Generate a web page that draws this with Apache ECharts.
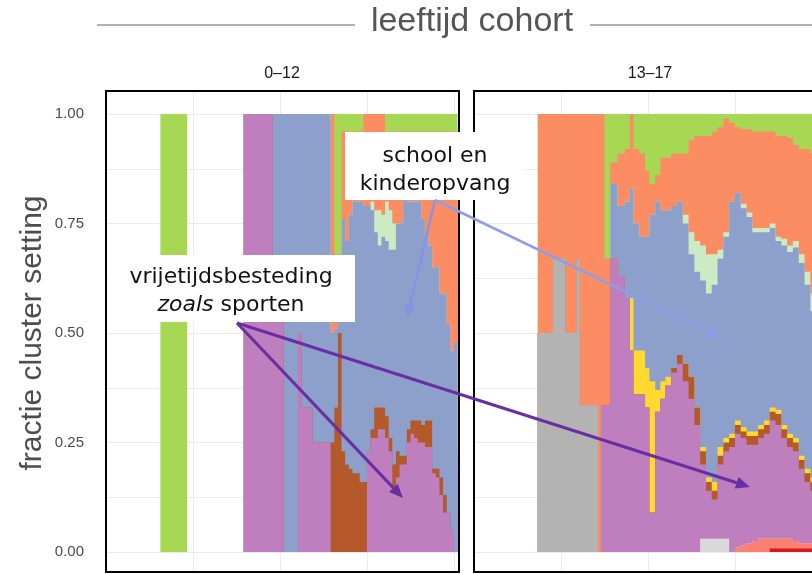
<!DOCTYPE html>
<html>
<head>
<meta charset="utf-8">
<script src="https://cdn.jsdelivr.net/npm/echarts@6/dist/echarts.min.js"></script>
<style>
  html, body { margin: 0; padding: 0; background: #fff; }
  #chart { width: 812px; height: 574px; }
</style>
</head>
<body>
<div id="chart"></div>
<script>
// uur van de dag, cohort 0-12
const hours012 = [0, 3.75, 5.6, 9.5, 11.5, 12.25, 13.25, 13.5, 14.25, 15.5, 15.75, 16.0, 16.25, 16.5, 16.75, 17.0, 17.5, 17.75, 18.0, 18.25, 18.5, 18.75, 19.0, 19.25, 19.5, 19.75, 20.0, 20.25, 20.5, 20.75, 21.0, 21.25, 21.5, 21.75, 22.0, 22.25, 22.5, 22.75, 23.0, 23.25, 23.5, 23.75, 24.0, 24.25, 24.35];
// fractie per cluster, cohort 0-12
const purple012 = [0, 0, 0, 1, .58, 0, .5, .33, .25, 0, 0, 0, 0, 0, 0, 0, 0, 0, .23, .26, .26, .28, .28, .26, .23, .14, .17, .2, .2, .25, .27, .26, .25, .25, .24, .24, .18, .17, .13, .09, .09, .05, 0, 0, 0];
const brown012 = [0, 0, 0, 0, 0, 0, 0, 0, 0, .25, .33, .5, .23, .2, .19, .18, .16, .16, 0, .02, .07, .05, .05, .05, .03, .06, .06, .02, .02, .03, .03, .04, .05, .04, .06, .06, .01, .02, .04, .04, 0, 0, 0, 0, 0];
const blue012 = [0, 0, 0, 0, .42, 1, .5, .67, .75, .25, .18, .18, .53, .51, .58, .62, .64, .63, .56, .5, .4, .37, .39, .4, .43, .49, .52, .53, .59, .52, .5, .5, .5, .47, .42, .4, .46, .46, .42, .46, .43, .41, .48, .25, .25];
const pale012 = [0, 0, 0, 0, 0, 0, 0, 0, 0, 0, 0, 0, 0, 0, 0, 0, 0, 0, 0, .02, .05, .08, .05, .09, .09, .06, 0, 0, 0, 0, 0, 0, 0, 0, 0, 0, 0, 0, 0, 0, 0, 0, 0, 0, 0];
const orange012 = [0, 0, 0, 0, 0, 0, 0, 0, 0, .5, .17, 0, .2, .25, .19, .16, .16, .21, .21, .2, .22, .22, .23, .16, .18, .21, .21, .21, .15, .16, .16, .16, .16, .2, .24, .26, .31, .31, .37, .37, .44, .5, .48, .71, .71];
const green012 = [0, 1, 0, 0, 0, 0, 0, 0, 0, 0, .32, .32, .04, .04, .04, .04, .04, 0, 0, 0, 0, 0, 0, .04, .04, .04, .04, .04, .04, .04, .04, .04, .04, .04, .04, .04, .04, .04, .04, .04, .04, .04, .04, .04, .04];

// uur van de dag, cohort 13-17
const hours1317 = [0, 4.4, 5.45, 6.3, 7.1, 7.3, 8.55, 8.75, 9.0, 9.4, 9.9, 10.4, 10.75, 11.0, 11.4, 11.8, 12.1, 12.5, 12.85, 13.2, 13.6, 14.0, 14.4, 14.8, 15.2, 15.6, 16.0, 16.4, 16.8, 17.2, 17.6, 18.0, 18.4, 18.8, 19.2, 19.6, 20.0, 20.4, 20.8, 21.2, 21.6, 22.0, 22.4, 22.8, 23.2, 24.35];
// fractie per cluster, cohort 13-17
const red1317 = [0, 0, 0, 0, 0, 0, 0, 0, 0, 0, 0, 0, 0, 0, 0, 0, 0, 0, 0, 0, 0, 0, 0, 0, 0, 0, 0, 0, 0, 0, 0, 0, 0, 0, 0, 0, 0, .008, .008, .008, .008, .008, .008, .008, .008, .008];
const salmon1317 = [0, 0, 0, 0, 0, 0, 0, 0, 0, 0, 0, 0, 0, 0, 0, 0, 0, 0, 0, 0, 0, 0, 0, 0, 0, 0, 0, 0, 0, 0, 0, .01, .015, .02, .025, .03, .03, .022, .022, .022, .022, .017, .012, .012, .012, .012];
const lightGrey1317 = [0, 0, 0, 0, 0, 0, 0, 0, 0, 0, 0, 0, 0, 0, 0, 0, 0, 0, 0, 0, 0, 0, 0, 0, 0, .03, .03, .03, .03, .03, 0, 0, 0, 0, 0, 0, 0, 0, 0, 0, 0, 0, 0, 0, 0, 0];
const grey1317 = [0, .5, .67, .5, .67, .335, 0, 0, 0, 0, 0, 0, 0, 0, 0, 0, 0, 0, 0, 0, 0, 0, 0, 0, 0, 0, 0, 0, 0, 0, 0, 0, 0, 0, 0, 0, 0, 0, 0, 0, 0, 0, 0, 0, 0, 0];
const purple1317 = [0, 0, 0, 0, 0, 0, 0, .335, .335, .67, .63, .58, .46, .36, .36, .33, .09, .32, .35, .38, .41, .43, .39, .35, .29, .17, .11, .09, .17, .2, .24, .26, .245, .225, .22, .23, .24, .27, .26, .23, .21, .205, .17, .14, .12, .12];
const brown1317 = [0, 0, 0, 0, 0, 0, 0, 0, 0, 0, 0, 0, 0, 0, 0, 0, 0, 0, 0, 0, .01, .02, .04, .05, .04, .03, .02, .02, .02, .02, .02, .02, .015, .02, .02, .02, .02, .02, .025, .02, .02, .02, .02, .02, .02, .02];
const yellow1317 = [0, 0, 0, 0, 0, 0, 0, 0, 0, 0, 0, 0, .12, .1, .1, .09, .3, .05, .04, .02, 0, 0, 0, 0, 0, .01, .01, .02, .02, .01, .01, .01, .01, .01, .01, .01, .01, .01, .01, .01, .01, .01, .01, .01, .01, .01];
const blue1317 = [0, 0, 0, 0, 0, 0, 0, 0, 0, .17, .16, .22, .25, .29, .26, .3, .38, .43, .39, .38, .37, .35, .32, .28, .31, .38, .42, .45, .43, .46, .53, .52, .5, .49, .455, .44, .43, .41, .385, .41, .415, .435, .44, .42, .38, .38];
const pale1317 = [0, 0, 0, 0, 0, 0, 0, 0, 0, 0, 0, 0, 0, 0, 0, 0, 0, 0, 0, 0, 0, 0, .02, .05, .07, .08, .09, .07, .02, .01, 0, 0, .01, .01, .01, .01, .01, .01, .01, .015, .015, .015, .02, .03, .04, .04];
const orange1317 = [0, .5, .33, .5, .33, .665, 1, .665, .335, .05, .12, .12, .17, .17, .19, .15, .07, .06, .12, .12, .12, .11, .14, .21, .24, .25, .27, .28, .28, .26, .18, .15, .17, .19, .22, .22, .22, .21, .23, .235, .245, .22, .24, .28, .32, .32];
const green1317 = [0, 0, 0, 0, 0, 0, 0, 0, .33, .11, .09, .08, 0, .08, .09, .13, .16, .14, .1, .1, .09, .09, .09, .06, .05, .05, .05, .04, .03, .01, .02, .03, .035, .035, .04, .04, .04, .05, .05, .05, .055, .07, .08, .08, .09, .09];

const yTicks = [0, 0.25, 0.5, 0.75, 1];

const C = {
  red: '#d7191c', salmon: '#fb8072', lightGrey: '#d9d9d9', grey: '#b3b3b3',
  purple: '#bf7fbf', brown: '#b3592a', yellow: '#ffd92f', blue: '#8da0cb',
  pale: '#ccebc5', orange: '#fc8d62', green: '#a6d854'
};

// layers bottom -> top, cumulative tops drawn with lower layers on top
function panelSeries(hours, layers, axisIdx) {
  let run = hours.map(() => 0);
  const tops = layers.map(l => (run = run.map((r, i) => r + l.values[i])));
  return layers.map((l, k) => ({
    type: 'line',
    xAxisIndex: axisIdx,
    yAxisIndex: axisIdx,
    step: 'end',
    symbol: 'none',
    silent: true,
    z: 2 + (layers.length - k),
    lineStyle: { width: 0 },
    areaStyle: { color: l.color, opacity: 1 },
    data: hours.map((h, i) => [h, tops[k][i]])
  }));
}

const series = [].concat(
  panelSeries(hours012, [
    { values: purple012, color: C.purple },
    { values: brown012, color: C.brown },
    { values: blue012, color: C.blue },
    { values: pale012, color: C.pale },
    { values: orange012, color: C.orange },
    { values: green012, color: C.green }
  ], 1),
  panelSeries(hours1317, [
    { values: red1317, color: C.red },
    { values: salmon1317, color: C.salmon },
    { values: lightGrey1317, color: C.lightGrey },
    { values: grey1317, color: C.grey },
    { values: purple1317, color: C.purple },
    { values: brown1317, color: C.brown },
    { values: yellow1317, color: C.yellow },
    { values: blue1317, color: C.blue },
    { values: pale1317, color: C.pale },
    { values: orange1317, color: C.orange },
    { values: green1317, color: C.green }
  ], 3)
);

function arrow(x1, y1, x2, y2, color, w) {
  const len = Math.hypot(x2 - x1, y2 - y1);
  const ux = (x2 - x1) / len, uy = (y2 - y1) / len;
  const hl = 14, hw = 6;
  const bx = x2 - ux * hl, by = y2 - uy * hl;
  return [
    { type: 'line', z: 101, shape: { x1: x1, y1: y1, x2: bx, y2: by }, style: { stroke: color, lineWidth: w } },
    { type: 'polygon', z: 101, shape: { points: [[x2, y2], [bx - uy * hw, by + ux * hw], [bx + uy * hw, by - ux * hw]] }, style: { fill: color } }
  ];
}

const gridCol = '#ebebeb';
const PANEL_W = 353;
const panels = [106, 474];

const grid = [], xAxis = [], yAxis = [];
panels.forEach((left, p) => {
  grid.push({ left: left, top: 91, width: PANEL_W, height: 481, show: true, z: 10, outerBoundsMode: 'none',
    backgroundColor: 'transparent', borderColor: '#000', borderWidth: 2 });
  grid.push({ left: left, top: 114, width: PANEL_W, height: 438, outerBoundsMode: 'none' });
  xAxis.push({ type: 'value', gridIndex: 2 * p, min: 0, max: 24.35, interval: 6,
    axisLine: { show: false }, axisTick: { show: false }, axisLabel: { show: false },
    splitLine: { show: true, lineStyle: { color: gridCol, width: 1 } } });
  xAxis.push({ type: 'value', gridIndex: 2 * p + 1, min: 0, max: 24.35, show: false });
  yAxis.push({ type: 'value', gridIndex: 2 * p, min: 0, max: 1, show: false });
  yAxis.push({ type: 'value', gridIndex: 2 * p + 1, min: 0, max: 1, interval: 0.125,
    axisLine: { show: false }, axisTick: { show: false },
    axisLabel: {
      show: p === 0, margin: 22, color: '#4d4d4d', fontSize: 15, fontFamily: 'Liberation Sans',
      formatter: v => (yTicks.some(t => Math.abs(t - v) < 1e-6) ? v.toFixed(2) : '')
    },
    splitLine: { show: true, lineStyle: { color: gridCol, width: 1 } },
    name: p === 0 ? 'fractie cluster setting' : '',
    nameLocation: 'middle', nameGap: 58,
    nameTextStyle: { color: '#4d4d4d', fontSize: 30, fontFamily: 'Liberation Sans' }
  });
});

const graphic = [
  { type: 'line', shape: { x1: 97, y1: 25, x2: 355, y2: 25 }, style: { stroke: '#666', lineWidth: 1 } },
  { type: 'line', shape: { x1: 590, y1: 25, x2: 812, y2: 25 }, style: { stroke: '#666', lineWidth: 1 } },
  { type: 'text', x: 472, y: 22, style: { text: 'leeftijd cohort', align: 'center', verticalAlign: 'middle',
    fill: '#555', fontSize: 34, fontFamily: 'Liberation Sans' } },
  { type: 'text', x: 282, y: 74, style: { text: '0\u201312', align: 'center', verticalAlign: 'middle',
    fill: '#1a1a1a', fontSize: 16, fontFamily: 'Liberation Sans' } },
  { type: 'text', x: 650, y: 74, style: { text: '13\u201317', align: 'center', verticalAlign: 'middle',
    fill: '#1a1a1a', fontSize: 16, fontFamily: 'Liberation Sans' } },

  { type: 'rect', z: 100, shape: { x: 345, y: 132, width: 180, height: 68 }, style: { fill: '#fff' } },
  { type: 'text', z: 101, x: 435, y: 170, style: { text: 'school en\nkinderopvang', align: 'center',
    verticalAlign: 'middle', fill: '#111', fontSize: 22, lineHeight: 28, fontFamily: 'DejaVu Sans' } },
  { type: 'rect', z: 100, shape: { x: 109, y: 255, width: 246, height: 67 }, style: { fill: '#fff' } },
  { type: 'text', z: 101, x: 231, y: 291, style: { text: 'vrijetijdsbesteding\n{i|zoals} sporten', align: 'center',
    verticalAlign: 'middle', fill: '#111', fontSize: 22, lineHeight: 28, fontFamily: 'DejaVu Sans',
    rich: { i: { fontStyle: 'italic', fontSize: 22, lineHeight: 28, fontFamily: 'DejaVu Sans', fill: '#111' } } } }
].concat(
  arrow(435, 200, 407, 318, '#8494e2', 2.5),
  arrow(435, 200, 722, 338, '#8f9de8', 2.5),
  arrow(237, 323, 403, 498, '#6a2ea3', 3),
  arrow(237, 323, 750, 487, '#6a2ea3', 3)
);

const chart = echarts.init(document.getElementById('chart'));
chart.setOption({
  animation: false,
  backgroundColor: '#fff',
  grid: grid,
  xAxis: xAxis,
  yAxis: yAxis,
  series: series,
  graphic: graphic
});
</script>
</body>
</html>
